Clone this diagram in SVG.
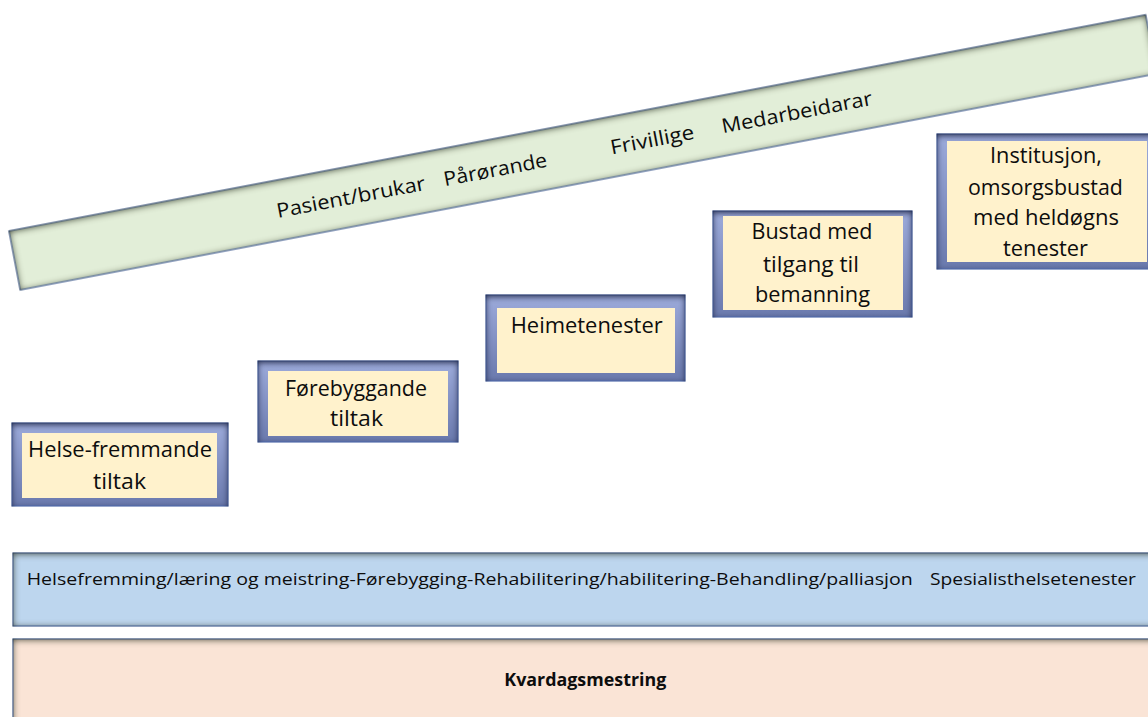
<svg xmlns="http://www.w3.org/2000/svg" width="1148" height="717" viewBox="0 0 1148 717">
  <defs>
    <filter id="inS" x="-10%" y="-20%" width="120%" height="140%" color-interpolation-filters="sRGB">
      <feFlood flood-color="#2a3020" flood-opacity="0.9"/>
      <feComposite in2="SourceAlpha" operator="out"/>
      <feGaussianBlur stdDeviation="3.5"/>
      <feOffset dy="1"/>
      <feComposite in2="SourceAlpha" operator="in" result="sh"/>
      <feMerge><feMergeNode in="SourceGraphic"/><feMergeNode in="sh"/></feMerge>
    </filter>
    <filter id="frS" x="-10%" y="-10%" width="120%" height="120%" color-interpolation-filters="sRGB">
      <feFlood flood-color="#141a36" flood-opacity="0.9"/>
      <feComposite in2="SourceAlpha" operator="out"/>
      <feGaussianBlur stdDeviation="3"/>
      <feOffset dy="2"/>
      <feComposite in2="SourceAlpha" operator="in" result="sh"/>
      <feMerge><feMergeNode in="SourceGraphic"/><feMergeNode in="sh"/></feMerge>
    </filter>
    <linearGradient id="frG" x1="0" y1="0" x2="0" y2="1">
      <stop offset="0" stop-color="#9dabdb"/>
      <stop offset="1" stop-color="#6a79ad"/>
    </linearGradient>
  </defs>
  <style>
    .frame { fill: url(#frG); stroke: #5b7cc8; stroke-width: 1; filter: url(#frS); }
    .inner { fill: #fff2cc; }
    .bt { font-family: "Open Sans", "Noto Sans", sans-serif; font-size: 21px; fill: #0d0d0d; text-anchor: middle; }
    .gt { font-family: "Open Sans", "Noto Sans", sans-serif; font-size: 20px; fill: #0d0d0d; }
    .st { font-family: "Open Sans", "Noto Sans", sans-serif; font-size: 16.5px; fill: #0d0d0d; }
    .kt { font-family: "Open Sans", "Noto Sans", sans-serif; font-size: 17px; font-weight: bold; fill: #0d0d0d; }
  </style>
  <rect width="1148" height="717" fill="#ffffff"/>

  <g id="actors-bar">
    <rect x="9" y="231" width="1157" height="60" fill="#e2eed8" stroke="#4f74c4" stroke-width="1" filter="url(#inS)" transform="rotate(-10.77 9 231)"/>
    <g transform="rotate(-10.77 278 218)">
      <text class="gt" x="278" y="218" textLength="151" lengthAdjust="spacingAndGlyphs">Pasient/brukar</text>
      <text class="gt" x="448" y="218" textLength="105" lengthAdjust="spacingAndGlyphs">Pårørande</text>
      <text class="gt" x="617.7" y="218" textLength="85" lengthAdjust="spacingAndGlyphs">Frivillige</text>
      <text class="gt" x="731" y="218" textLength="153" lengthAdjust="spacingAndGlyphs">Medarbeidarar</text>
    </g>
  </g>

  <g id="node-helsefremmande">
    <rect class="frame" x="12" y="423" width="216" height="83"/>
    <rect class="inner" x="22" y="433" width="195" height="65"/>
    <text class="bt" x="120" y="457" textLength="184" lengthAdjust="spacingAndGlyphs">Helse-fremmande</text>
    <text class="bt" x="119.5" y="489" textLength="53" lengthAdjust="spacingAndGlyphs">tiltak</text>
  </g>

  <g id="node-forebyggande">
    <rect class="frame" x="258" y="361" width="200" height="81"/>
    <rect class="inner" x="268" y="371" width="180" height="65"/>
    <text class="bt" x="356" y="396" textLength="142" lengthAdjust="spacingAndGlyphs">Førebyggande</text>
    <text class="bt" x="356.5" y="426" textLength="53" lengthAdjust="spacingAndGlyphs">tiltak</text>
  </g>

  <g id="node-heimetenester">
    <rect class="frame" x="486" y="295" width="199" height="86"/>
    <rect class="inner" x="497" y="308" width="178" height="65"/>
    <text class="bt" x="586.7" y="333" textLength="152" lengthAdjust="spacingAndGlyphs">Heimetenester</text>
  </g>

  <g id="node-bustad">
    <rect class="frame" x="713" y="211" width="199" height="106"/>
    <rect class="inner" x="723" y="216" width="180" height="94"/>
    <text class="bt" x="812" y="239" textLength="121" lengthAdjust="spacingAndGlyphs">Bustad med</text>
    <text class="bt" x="811" y="271.5" textLength="96" lengthAdjust="spacingAndGlyphs">tilgang til</text>
    <text class="bt" x="812.5" y="301.5" textLength="115" lengthAdjust="spacingAndGlyphs">bemanning</text>
  </g>

  <g id="node-institusjon">
    <rect class="frame" x="937" y="134" width="220" height="135"/>
    <rect class="inner" x="947" y="141" width="200" height="121"/>
    <text class="bt" x="1046" y="163" textLength="112" lengthAdjust="spacingAndGlyphs">Institusjon,</text>
    <text class="bt" x="1045.4" y="195" textLength="155" lengthAdjust="spacingAndGlyphs">omsorgsbustad</text>
    <text class="bt" x="1046" y="225" textLength="146" lengthAdjust="spacingAndGlyphs">med heldøgns</text>
    <text class="bt" x="1045.5" y="256" textLength="85" lengthAdjust="spacingAndGlyphs">tenester</text>
  </g>

  <g id="services-bar">
    <rect x="13" y="553" width="1150" height="73" fill="#bdd6ee" stroke="#4f74c4" stroke-width="1" filter="url(#inS)"/>
    <text class="st" x="26.7" y="585" textLength="886" lengthAdjust="spacingAndGlyphs">Helsefremming/læring og meistring-Førebygging-Rehabilitering/habilitering-Behandling/palliasjon</text>
    <text class="st" x="930" y="585" textLength="206" lengthAdjust="spacingAndGlyphs">Spesialisthelsetenester</text>
  </g>

  <g id="everyday-bar">
    <rect x="13" y="639" width="1150" height="90" fill="#fae4d6" stroke="#4f74c4" stroke-width="1" filter="url(#inS)"/>
    <text class="kt" x="504.3" y="686" textLength="162" lengthAdjust="spacingAndGlyphs">Kvardagsmestring</text>
  </g>

  <g id="connectors"></g>
</svg>
